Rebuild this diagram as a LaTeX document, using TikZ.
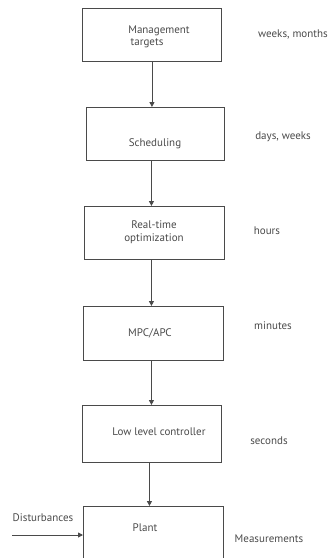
\documentclass[tikz,border=0pt]{standalone}
\usepackage{fontspec}
\setmainfont{PT Sans}
\usetikzlibrary{arrows.meta}
\definecolor{ink}{HTML}{4A4A4A}
\tikzset{
  blk/.style={draw=ink, line width=0.9pt, anchor=north west, inner sep=0pt},
  flow/.style={draw=ink, line width=0.9pt, -{Triangle[length=5pt,width=5pt]}},
  lbl/.style={text=ink, font=\fontsize{11}{12.5}\selectfont, inner sep=0pt, align=center},
}
\begin{document}
\begin{tikzpicture}[x=1pt,y=-1pt]
\useasboundingbox (0,0) rectangle (334,558);
\clip (0,0) rectangle (334,558);
% hierarchy blocks
\node[blk, minimum width=139pt, minimum height=53pt] (mgmt) at (82,8) {};
\node[blk, minimum width=138pt, minimum height=53pt] (sched) at (86,107) {};
\node[blk, minimum width=140pt, minimum height=53pt] (rto) at (84,206) {};
\node[blk, minimum width=140pt, minimum height=54pt] (mpc) at (83,306) {};
\node[blk, minimum width=139pt, minimum height=57pt] (llc) at (82,405) {};
\node[blk, minimum width=140pt, minimum height=70pt] (plant) at (83,506) {};
% block texts
\node[lbl] (tmgmt) at (154,37) {\hspace*{10pt}Management\\targets\hspace*{14pt}};
\node[lbl] (tsched) at (155,144) {Scheduling};
\node[lbl] (trto) at (154,232) {Real-time\\optimization};
\node[lbl] (tmpc) at (150,333) {MPC/APC};
\node[lbl] (tllc) at (159,432) {Low level controller};
\node[lbl] (tplant) at (145,528) {Plant};
% time scales
\node[lbl] (w1) at (293,34) {weeks, months};
\node[lbl] (w2) at (283,137) {days, weeks};
\node[lbl] (w3) at (267,231) {hours};
\node[lbl] (w4) at (273,326) {minutes};
\node[lbl] (w5) at (269,441) {seconds};
\node[lbl] (meas) at (269,539) {Measurements};
\node[lbl] (dist) at (43,518) {Disturbances};
% connectors
\path[flow] (mgmt.south) -- (mgmt.south |- sched.north);
\path[flow] ([xshift=-4pt]sched.south) -- ([xshift=-4pt]sched.south |- rto.north);
\path[flow] ([xshift=-3pt]rto.south) -- ([xshift=-3pt]rto.south |- mpc.north);
\path[flow] ([xshift=-2pt]mpc.south) -- ([xshift=-2pt]mpc.south |- llc.north);
\path[flow] ([xshift=-2.5pt]llc.south) -- ([xshift=-2.5pt]llc.south |- plant.north);
\coordinate (din) at (12,535);
\path[flow] (din) -- (din -| plant.west);
\end{tikzpicture}
\end{document}
